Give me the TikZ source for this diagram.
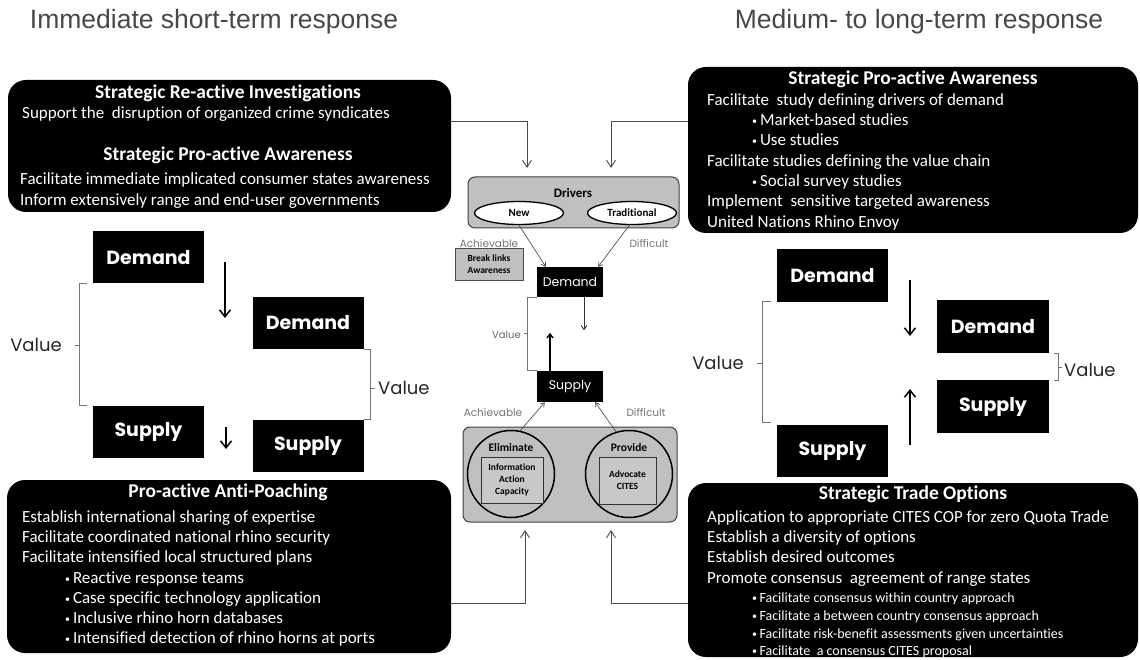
\documentclass[tikz,border=0pt]{standalone}
\usepackage{fontspec}
\setmainfont{Carlito}[Ligatures=NoCommon]
\newfontfamily\titlefont{Liberation Sans}
\newfontfamily\comicfont{Poppins}
\usetikzlibrary{arrows.meta,shapes.geometric,calc}
\definecolor{boxgray}{RGB}{192,192,192}
\definecolor{innergray}{RGB}{200,200,200}
\newcommand{\bul}{{\fontsize{10}{10}\selectfont\raisebox{1pt}{•}}\,}
\begin{document}
\begin{tikzpicture}[x=1pt,y=-1pt,
  panel/.style={fill=black, rounded corners=18pt, inner sep=0pt},
  ptitle/.style={text=white, font=\bfseries\fontsize{19.5}{21}\selectfont, inner sep=0pt, text height=12.5pt, text depth=4pt},
  pline/.style={text=white, anchor=west, font=\fontsize{17}{18}\selectfont, inner sep=0pt, text height=11.5pt, text depth=3.5pt},
  psmall/.style={pline, font=\fontsize{14}{16}\selectfont, text height=9.5pt, text depth=3pt},
  dsbox/.style={fill=black, text=white, font=\comicfont\bfseries\fontsize{19}{22}\selectfont, inner sep=0pt, minimum width=111pt, minimum height=52pt},
  csbox/.style={fill=black, text=white, font=\comicfont\fontsize{12.5}{14}\selectfont, inner sep=0pt, minimum width=66pt, minimum height=30pt},
  valuetxt/.style={text=black!85, font=\comicfont\fontsize{18}{20}\selectfont, inner sep=0pt},
  smallgray/.style={text=black!55, font=\comicfont\fontsize{10.5}{12}\selectfont, inner sep=0pt},
  brk/.style={draw=black!55, line width=0.9pt},
  bigarrow/.style={draw=black, line width=1.5pt, -{Straight Barb[length=7pt,width=11pt,line width=1.5pt]}},
  feed/.style={draw=black!70, line width=0.9pt, -{Straight Barb[length=7pt,width=9pt]}},
  thinarrow/.style={draw=black!75, line width=0.6pt, -{Straight Barb[length=4pt,width=5pt]}},
  graypanel/.style={fill=boxgray, draw=black!75, line width=1pt, rounded corners=7pt, inner sep=0pt},
  oval/.style={ellipse, fill=white, draw=black, line width=1.3pt, minimum width=89pt, minimum height=23pt, inner sep=0pt, font=\bfseries\fontsize{11}{12}\selectfont},
  circ/.style={circle, fill=boxgray, draw=black, line width=1.5pt, minimum size=87pt, inner sep=0pt},
  innerbox/.style={fill=innergray, draw=black!80, line width=1pt, inner sep=0pt, align=center, font=\bfseries\fontsize{9.5}{12}\selectfont},
  boldlab/.style={font=\bfseries\fontsize{11.5}{13}\selectfont, inner sep=0pt},
  headtxt/.style={font=\titlefont\fontsize{26.5}{28}\selectfont, text=black!72, inner sep=0pt}
]
\useasboundingbox (0,0) rectangle (1140,660);

% titles
\node[headtxt] (h1) at (214,22) {Immediate short-term response};
\node[headtxt] (h2) at (919,22) {Medium- to long-term response};

% black panels
\node[panel, minimum width=443pt, minimum height=132pt] (tl) at (229.5,146) {};
\node[panel, minimum width=450pt, minimum height=166pt] (tr) at (913,150) {};
\node[panel, minimum width=444pt, minimum height=173pt] (bl) at (229,566.5) {};
\node[panel, minimum width=450pt, minimum height=174pt] (br) at (913,570) {};

% top-left text
\node[ptitle] (tl1) at (228,94) {Strategic Re-active Investigations};
\node[pline] (tl2) at (22,115) {Support the\ \ disruption of organized crime syndicates};
\node[ptitle] (tl3) at (228,156) {Strategic Pro-active Awareness};
\node[pline] (tl4) at (20,181) {Facilitate immediate implicated consumer states awareness};
\node[pline] (tl5) at (20,202) {Inform extensively range and end-user governments};

% top-right text
\node[ptitle] (tr1) at (913,80) {Strategic Pro-active Awareness};
\node[pline] (tr2) at (707,102) {Facilitate\ \ study defining drivers of demand};
\node[pline] (tr3) at (752,122) {\bul Market-based studies};
\node[pline] (tr4) at (752,142) {\bul Use studies};
\node[pline] (tr5) at (707,163) {Facilitate studies defining the value chain};
\node[pline] (tr6) at (752,183) {\bul Social survey studies};
\node[pline] (tr7) at (707,203) {Implement\ \ sensitive targeted awareness};
\node[pline] (tr8) at (707,224) {United Nations Rhino Envoy};

% bottom-left text
\node[ptitle] (bl1) at (228,493) {Pro-active Anti-Poaching};
\node[pline] (bl2) at (22,518) {Establish international sharing of expertise};
\node[pline] (bl3) at (22,538) {Facilitate coordinated national rhino security};
\node[pline] (bl4) at (22,558) {Facilitate intensified local structured plans};
\node[pline] (bl5) at (65,579) {\bul Reactive response teams};
\node[pline] (bl6) at (65,599) {\bul Case specific technology application};
\node[pline] (bl7) at (65,619) {\bul Inclusive rhino horn databases};
\node[pline] (bl8) at (65,639) {\bul Intensified detection of rhino horns at ports};

% bottom-right text
\node[ptitle] (br1) at (913,495) {Strategic Trade Options};
\node[pline] (br2) at (707,518) {Application to appropriate CITES COP for zero Quota Trade};
\node[pline] (br3) at (707,538) {Establish a diversity of options};
\node[pline] (br4) at (707,558) {Establish desired outcomes};
\node[pline] (br5) at (707,579) {Promote consensus\ \ agreement of range states};
\node[psmall] (br6) at (752,599) {\bul Facilitate consensus within country approach};
\node[psmall] (br7) at (752,617) {\bul Facilitate a between country consensus approach};
\node[psmall] (br8) at (752,635) {\bul Facilitate risk-benefit assessments given uncertainties};
\node[psmall] (br9) at (752,652) {\bul Facilitate\ \ a consensus CITES proposal};

% left middle diagram
\node[dsbox] (dL1) at (148.5,257.5) {Demand};
\node[dsbox] (dL2) at (308,323) {Demand};
\node[dsbox] (sL1) at (148.5,432) {Supply};
\node[dsbox] (sL2) at (308,446) {Supply};
\coordinate (aL1s) at (225,262);
\coordinate (aL1e) at (225,318);
\draw[bigarrow] (aL1s) -- (aL1e);
\coordinate (aL2s) at (226,427);
\coordinate (aL2e) at (226,449);
\draw[bigarrow] (aL2s) -- (aL2e);
\draw[brk] ($(dL1.south west)+(-6,0)$) -- ++(-7,0) |- ($(sL1.north west)+(-6,0)$);
\draw[brk] (80,345) -- (75,345);
\node[valuetxt] (vL1) at (36,345) {Value};
\draw[brk] (dL2.south east) -- ++(7,0) |- (sL2.north east);
\draw[brk] (370,388) -- (375,388);
\node[valuetxt, anchor=west] (vL2) at (378,388) {Value};

% right middle diagram
\node[dsbox, minimum height=53pt] (dR1) at (832.5,275.5) {Demand};
\node[dsbox, minimum width=112pt, minimum height=53pt] (dR2) at (993,326.5) {Demand};
\node[dsbox, minimum width=112pt, minimum height=53pt] (sR2) at (993,406.5) {Supply};
\node[dsbox, minimum height=52pt] (sR1) at (832.5,451) {Supply};
\coordinate (aR1s) at (910,280);
\coordinate (aR1e) at (910,336);
\draw[bigarrow] (aR1s) -- (aR1e);
\coordinate (aR2s) at (910,445);
\coordinate (aR2e) at (910,389);
\draw[bigarrow] (aR2s) -- (aR2e);
\draw[brk] ($(dR1.south west)+(-6,-1)$) -- ++(-8,0) |- ($(sR1.north west)+(-6,-2)$);
\draw[brk] (763,363) -- (757,363);
\node[valuetxt] (vR1) at (718,363) {Value};
\draw[brk] ($(dR2.south east)+(5,0)$) -- ++(4,0) |- ($(sR2.north east)+(5,1)$);
\draw[brk] (1058,367) -- (1062,367);
\node[valuetxt, anchor=west] (vR2) at (1064,370) {Value};

% centre diagram
\node[graypanel, minimum width=211pt, minimum height=51pt] (drv) at (573.5,202.5) {};
\node[font=\bfseries\fontsize{13}{14}\selectfont, inner sep=0pt] (drvt) at (573,193) {Drivers};
\node[oval] (new) at (519,213) {New};
\node[oval] (trad) at (632,213) {Traditional};
\node[csbox] (cdem) at (570,282) {Demand};
\node[csbox, minimum height=31pt] (csup) at (570,386.5) {Supply};
\node[fill=boxgray, draw=black!70, line width=0.8pt, minimum width=68pt, minimum height=32pt, inner sep=0pt, align=center, font=\bfseries\fontsize{9.5}{12}\selectfont] (brk1) at (489,264) {Break links\\Awareness};
\node[smallgray] (ach1) at (489,244) {Achievable};
\node[smallgray] (dif1) at (649,244) {Difficult};
\node[smallgray] (ach2) at (493,413) {Achievable};
\node[smallgray] (dif2) at (646,413) {Difficult};
\node[graypanel, minimum width=214pt, minimum height=95pt] (tools) at (570,474.5) {};
\node[circ] (elim) at (511,474) {};
\node[circ] (prov) at (629,474) {};
\node[boldlab] (elimt) at (511,448) {Eliminate};
\node[boldlab] (provt) at (629,448) {Provide};
\node[innerbox, minimum width=62pt, minimum height=46pt] (elimb) at (512,480) {Information\\Action\\Capacity};
\node[innerbox, minimum width=57pt, minimum height=47pt] (provb) at (627.5,480.5) {Advocate\\CITES};

\draw[thinarrow] (new.south) -- ($(cdem.north west)+(9,0)$);
\draw[thinarrow] (trad.258) -- ($(cdem.north east)+(-5,0)$);
\draw[thinarrow] (elim.78) -- ($(csup.south west)+(8,0)$);
\draw[thinarrow] (prov.107) -- ($(csup.south east)+(-8,0)$);
\draw[draw=black!80, line width=0.9pt, -{Straight Barb[length=4pt,width=6pt]}] ($(cdem.south)+(14,0)$) -- ++(0,33);
\draw[draw=black, line width=1.6pt, -{Straight Barb[length=4pt,width=6pt,line width=1.4pt]}] ($(csup.north)+(-20,0)$) -- ++(0,-38);
\draw[brk, line width=0.7pt] (cdem.south west) -- ++(-9,0) |- (csup.north west);
\draw[brk, line width=0.7pt] (528,333) -- (524,333);
\node[text=black!60, font=\comicfont\fontsize{10}{12}\selectfont, inner sep=0pt, anchor=east] (cval) at (521,335) {Value};

% feeds from panels
\coordinate (d1) at (527,168);
\coordinate (d2) at (611,168);
\coordinate (e1) at (525,530);
\coordinate (e2) at (611,530);
\draw[feed] ($(tl.north east)+(0,42)$) -| (d1);
\draw[feed] ($(tr.north west)+(0,55)$) -| (d2);
\draw[feed] ($(bl.north east)+(0,124)$) -| (e1);
\draw[feed] ($(br.north west)+(0,121)$) -| (e2);
\end{tikzpicture}
\end{document}
